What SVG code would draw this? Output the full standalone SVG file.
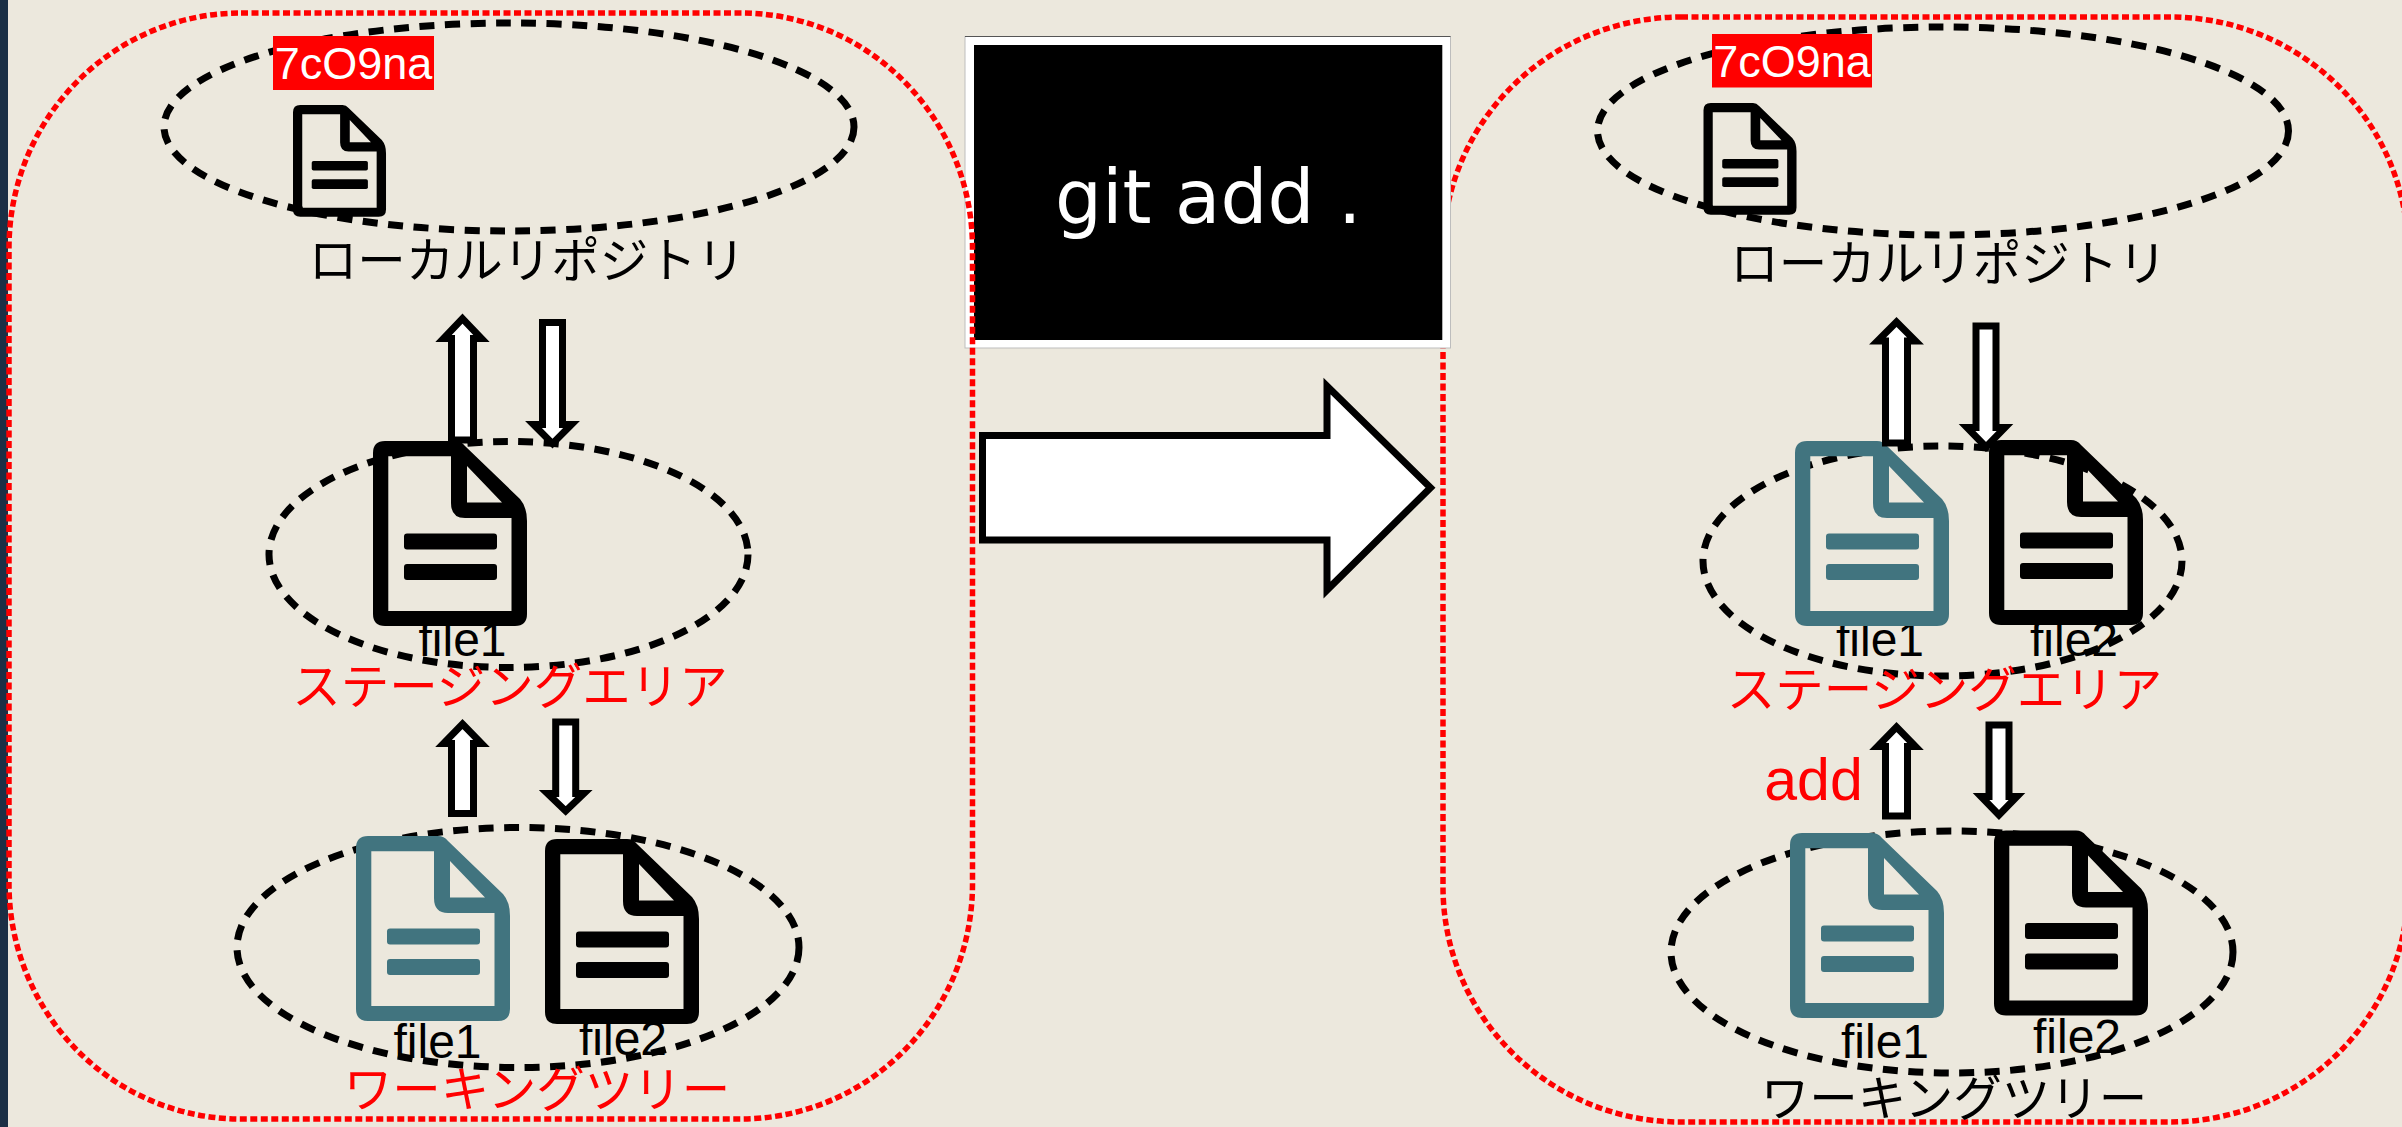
<svg xmlns="http://www.w3.org/2000/svg" width="2402" height="1127" viewBox="0 0 2402 1127">
<style>
.panel{fill:none;stroke:#f00;stroke-width:5.5;stroke-dasharray:7 3.5}
.area{fill:none;stroke:#000;stroke-width:7;stroke-dasharray:15 10.5}
.arrow{fill:#fff;stroke:#000;stroke-width:7;stroke-linejoin:miter;stroke-miterlimit:10}
.jp{font-family:"Noto Sans CJK JP","Liberation Sans",sans-serif;font-size:48.500px;font-weight:400;text-anchor:middle}
.file{font-family:"Liberation Sans",sans-serif;font-size:48px;fill:#000;text-anchor:middle}
.hash{font-family:"Liberation Sans",sans-serif;font-size:45px;fill:#fff;text-anchor:middle}
.red{fill:#f00}
.blk{fill:#000}
.teal{fill:#41747f}
</style>
<defs>
<g id="doc">
<path fill-rule="evenodd" d="M12 0H82Q88 0 92 5L147 58Q154 66 154 80V173Q154 185 142 185H12Q0 185 0 173V12Q0 0 12 0ZM15.3 15.3V170H138.5V77H92Q78 77 78 62V15.3ZM94 25V61.5H129Z"/>
<rect x="31" y="92.6" width="93" height="16" rx="3"/>
<rect x="31" y="123" width="93" height="16" rx="3"/>
</g>
</defs>
<rect width="2402" height="1127" fill="#ece8dd"/>
<rect width="8" height="1127" fill="#1b2f45"/>

<g id="panel-after"><rect class="panel" x="1443" y="17" width="965" height="1105" rx="238" ry="235"/></g>

<g id="command">
<rect x="965" y="36.500" width="485.500" height="311.500" fill="#fff" stroke="#bdbdbd" stroke-width="1"/>
<path d="M965 36.500H1450.500" stroke="#555" stroke-width="1"/>
<rect x="974" y="45" width="468.300" height="295" fill="#000"/>
<text x="1055" y="223" font-family="DejaVu Sans, sans-serif" font-size="74" fill="#fff">git add .</text>
</g>

<g id="panel-before"><rect class="panel" x="9" y="13" width="963.500" height="1106" rx="232" ry="235"/></g>

<g id="big-arrow"><path class="arrow" d="M982.500 435.500H1327V386L1430.500 487.700L1327 590V540H982.500Z"/></g>

<g id="before-repo">
<ellipse class="area" cx="509" cy="127" rx="345" ry="104"/>
<rect x="273" y="36" width="161" height="54" fill="#f00"/>
<text class="hash" x="353.500" y="79">7cO9na</text>
<use href="#doc" class="blk" transform="translate(293 105) scale(.604)"/>
<text class="jp blk" x="527" y="278">ローカルリポジトリ</text>
</g>
<g id="before-stage">
<ellipse class="area" cx="508.500" cy="554.500" rx="239.500" ry="113"/>
<text class="file" x="462.500" y="656">file1</text>
<use href="#doc" class="blk" transform="translate(373 441)"/>
<text class="jp red" x="510" y="704">ステージングエリア</text>
</g>
<g id="before-work">
<ellipse class="area" cx="518" cy="947.500" rx="281" ry="120"/>
<text class="file" x="437.500" y="1058">file1</text>
<text class="file" x="623" y="1055">file2</text>
<use href="#doc" class="teal" transform="translate(356 836)"/>
<use href="#doc" class="blk" transform="translate(545 839)"/>
<text class="jp red" x="537" y="1107">ワーキングツリー</text>
</g>

<g id="after-repo">
<ellipse class="area" cx="1943" cy="131" rx="345.500" ry="104"/>
<rect x="1712" y="34" width="160" height="53.500" fill="#f00"/>
<text class="hash" x="1792" y="77">7cO9na</text>
<use href="#doc" class="blk" transform="translate(1703.500 103) scale(.604)"/>
<text class="jp blk" x="1948.500" y="281">ローカルリポジトリ</text>
</g>
<g id="after-stage">
<ellipse class="area" cx="1942.500" cy="561" rx="239.500" ry="115"/>
<text class="file" x="1880" y="656">file1</text>
<text class="file" x="2074" y="656">file2</text>
<use href="#doc" class="teal" transform="translate(1795 441)"/>
<use href="#doc" class="blk" transform="translate(1989 440)"/>
<text class="jp red" x="1944.500" y="707">ステージングエリア</text>
</g>
<g id="after-work">
<ellipse class="area" cx="1952" cy="952" rx="281" ry="121"/>
<text class="file" x="1885" y="1058">file1</text>
<text class="file" x="2077" y="1052.600">file2</text>
<use href="#doc" class="teal" transform="translate(1790 833)"/>
<use href="#doc" class="blk" transform="translate(1994 830.500)"/>
<text class="jp blk" x="1954" y="1116">ワーキングツリー</text>
</g>
<text id="add-label" x="1813.500" y="800" font-family="Liberation Sans, sans-serif" font-size="59" fill="#f00" text-anchor="middle">add</text>

<g id="connectors">
<path class="arrow" d="M462.500 318.600L481.500 338.500H473.500V440H451.500V338.500H443.500Z"/>
<path class="arrow" d="M552.500 443.600L533.500 424.500H542.500V322.500H562.500V424.500H571.500Z"/>
<path class="arrow" d="M462.500 724L481.500 743.500H473.500V813.500H451.500V743.500H443.500Z"/>
<path class="arrow" d="M565.700 811L547.500 793.500H555.700V722H575.700V793.500H583.900Z"/>
<path class="arrow" d="M1896.500 322L1915.500 341H1907.500V443H1885.500V341H1877.500Z"/>
<path class="arrow" d="M1986 447L1967 427.500H1976V326H1996V427.500H2005Z"/>
<path class="arrow" d="M1896.500 727L1915.500 746.500H1907.500V816H1885.500V746.500H1877.500Z"/>
<path class="arrow" d="M1999 815L1981 796.500H1989V725H2009V796.500H2017Z"/>
</g>
</svg>
